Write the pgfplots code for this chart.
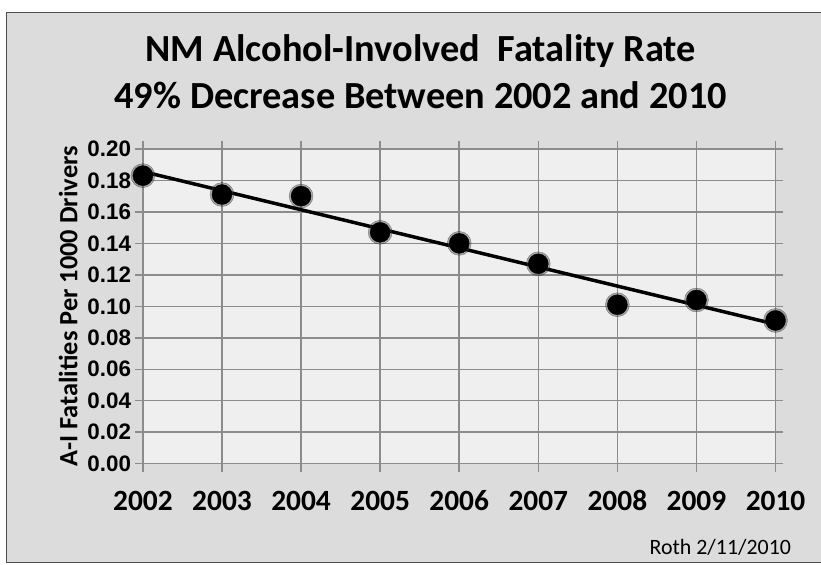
\documentclass[border=0pt]{standalone}
\usepackage{pgfplots}
\pgfplotsset{compat=1.18}
\usepackage{fontspec}
\setmainfont{Carlito}
\newfontfamily\tickfont{Liberation Sans}

\definecolor{framebg}{HTML}{DCDCDC}
\definecolor{plotbg}{HTML}{EFEFEF}
\definecolor{gridgray}{HTML}{8C8C8C}

% fatality rate per 1000 drivers, 2002-2010
\pgfplotstableread{
year rate
2002 0.183
2003 0.171
2004 0.170
2005 0.147
2006 0.140
2007 0.127
2008 0.101
2009 0.104
2010 0.091
}\ratetable

\begin{document}
\begin{tikzpicture}[x=1bp,y=1bp]
  % page and chart frame
  \fill[white] (0,0) rectangle (821,565);
  \fill[framebg] (7,2) rectangle (821,552);
  \draw[gray!60!black, line width=1bp] (821,2) -- (7,2) -- (7,552) -- (821,552);

  % title
  \node[font=\bfseries\fontsize{38.5}{40}\selectfont, anchor=base] at (421,503) {NM Alcohol-Involved\ \ Fatality Rate};
  \node[font=\bfseries\fontsize{38.5}{40}\selectfont, anchor=base] at (421,456) {49\% Decrease Between 2002 and 2010};

  \begin{axis}[
    at={(143bp,101bp)}, anchor=south west,
    scale only axis, width=633bp, height=315bp,
    xmin=2002, xmax=2010, ymin=0, ymax=0.20,
    xtick={2002,2003,2004,2005,2006,2007,2008,2009,2010},
    xticklabels={2002,2003,2004,2005,2006,2007,2008,2009,2010},
    ytick={0,0.02,0.04,0.06,0.08,0.10,0.12,0.14,0.16,0.18,0.20},
    yticklabel style={/pgf/number format/fixed, /pgf/number format/fixed zerofill,
      /pgf/number format/precision=2, /pgf/number format/assume math mode=true,
      font=\tickfont\bfseries\fontsize{22.5}{24}\selectfont, anchor=east, xshift=-0.5bp},
    xticklabel style={font=\bfseries\fontsize{29.5}{31}\selectfont, anchor=base, yshift=-39bp},
    tick align=outside, major tick length=8bp,
    tick style={gridgray, line width=1.5bp},
    grid=major, major grid style={gridgray, line width=1.5bp},
    axis line style={gridgray, line width=1.5bp},
    axis background/.style={fill=plotbg},
    ylabel={A-I Fatalities Per 1000 Drivers},
    ylabel style={font=\bfseries\fontsize{26.5}{28}\selectfont, at={(axis description cs:-0.118,0.5)}, anchor=center},
    clip=false,
  ]
    % linear trend
    \addplot[black, line width=3.5bp] coordinates {(2002,0.1856) (2010,0.0886)};
    % soft halo behind each mark
    \addplot[only marks, mark=*, mark size=12bp, mark options={fill=gray!50!black, draw=none, opacity=0.4}] table[x=year, y=rate] {\ratetable};
    \addplot[only marks, mark=*, mark size=10bp, mark options={fill=black, draw=black}] table[x=year, y=rate] {\ratetable};
  \end{axis}

  \node[font=\fontsize{22}{24}\selectfont, anchor=base east] at (795,10) {Roth 2/11/2010};
\end{tikzpicture}
\end{document}
